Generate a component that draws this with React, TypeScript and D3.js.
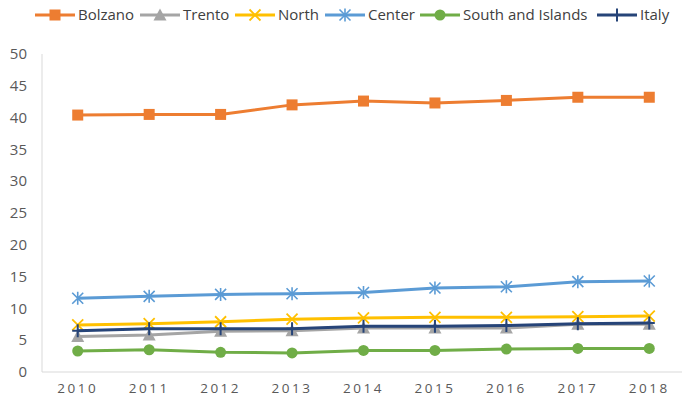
import * as d3 from "d3";

const years = ["2010", "2011", "2012", "2013", "2014", "2015", "2016", "2017", "2018"];
const yTicks = [0, 5, 10, 15, 20, 25, 30, 35, 40, 45, 50];

const bolzano = [40.4, 40.5, 40.5, 42.0, 42.6, 42.3, 42.7, 43.2, 43.2];
const trento = [5.6, 5.8, 6.4, 6.5, 6.9, 6.9, 6.9, 7.5, 7.5];
const north = [7.4, 7.6, 7.9, 8.3, 8.5, 8.6, 8.6, 8.7, 8.8];
const center = [11.6, 11.9, 12.2, 12.3, 12.5, 13.2, 13.4, 14.2, 14.3];
const south = [3.3, 3.5, 3.1, 3.0, 3.4, 3.4, 3.6, 3.7, 3.7];
const italy = [6.5, 6.8, 6.8, 6.8, 7.2, 7.2, 7.3, 7.6, 7.7];

type Marker = "square" | "triangle" | "x" | "star" | "circle" | "plus";

const series: { name: string; values: number[]; color: string; marker: Marker }[] = [
  { name: "Bolzano", values: bolzano, color: "#ED7D31", marker: "square" },
  { name: "Trento", values: trento, color: "#A5A5A5", marker: "triangle" },
  { name: "North", values: north, color: "#FFC000", marker: "x" },
  { name: "Center", values: center, color: "#5B9BD5", marker: "star" },
  { name: "South and Islands", values: south, color: "#70AD47", marker: "circle" },
  { name: "Italy", values: italy, color: "#264478", marker: "plus" },
];

const font = "'Open Sans', sans-serif";

function MarkerShape({ type, x, y, color }: { type: Marker; x: number; y: number; color: string }) {
  const s = 5.5;
  switch (type) {
    case "square":
      return <rect x={x - s} y={y - s} width={s * 2} height={s * 2} fill={color} />;
    case "triangle":
      return <path d={`M${x},${y - s - 1}L${x + s + 1},${y + s}L${x - s - 1},${y + s}Z`} fill={color} />;
    case "circle":
      return <circle cx={x} cy={y} r={5.5} fill={color} />;
    case "x":
      return (
        <path
          d={`M${x - s},${y - s}L${x + s},${y + s}M${x + s},${y - s}L${x - s},${y + s}`}
          stroke={color}
          strokeWidth={1.8}
        />
      );
    case "star":
      return (
        <path
          d={`M${x - s},${y - s}L${x + s},${y + s}M${x + s},${y - s}L${x - s},${y + s}M${x},${y - s - 1}L${x},${y + s + 1}`}
          stroke={color}
          strokeWidth={1.6}
        />
      );
    case "plus":
      return (
        <path
          d={`M${x},${y - s - 1}L${x},${y + s + 1}M${x - s},${y}L${x + s},${y}`}
          stroke={color}
          strokeWidth={2}
        />
      );
  }
}

const legendX = [35, 140, 235, 325, 420, 597];

export default function App() {
  const width = 682;
  const height = 404;
  const margin = { top: 54, right: -3, bottom: 32, left: 42 };

  const x = d3
    .scaleBand<string>()
    .domain(years)
    .range([margin.left, width - margin.right]);
  const y = d3
    .scaleLinear()
    .domain([0, 50])
    .range([height - margin.bottom, margin.top]);

  const line = d3
    .line<number>()
    .x((_, i) => (x(years[i]) ?? 0) + x.bandwidth() / 2)
    .y((d) => y(d));

  return (
    <svg
      width={width}
      height={height}
      style={{ position: "absolute", left: 0, top: 0, background: "#fff" }}
      fontFamily={font}
    >
      {/* axes */}
      <line x1={margin.left} x2={margin.left} y1={y(50)} y2={y(0)} stroke="#D9D9D9" />
      <line x1={margin.left} x2={width} y1={y(0)} y2={y(0)} stroke="#D9D9D9" />
      {yTicks.map((t) => (
        <text key={t} x={27} y={y(t)} dy="0.35em" textAnchor="end" fontSize={15} fill="#595959">
          {t}
        </text>
      ))}
      {years.map((yr) => (
        <text
          key={yr}
          x={(x(yr) ?? 0) + x.bandwidth() / 2}
          y={393}
          textAnchor="middle"
          fontSize={13.5}
          letterSpacing={2.5}
          fill="#595959"
        >
          {yr}
        </text>
      ))}

      {series.map((s) => (
        <g key={s.name}>
          <path d={line(s.values) ?? ""} fill="none" stroke={s.color} strokeWidth={3} />
          {s.values.map((v, i) => (
            <MarkerShape
              key={i}
              type={s.marker}
              x={(x(years[i]) ?? 0) + x.bandwidth() / 2}
              y={y(v)}
              color={s.color}
            />
          ))}
        </g>
      ))}

      {/* legend */}
      {series.map((s, i) => {
        const lx = legendX[i];
        return (
          <g key={s.name}>
            <line x1={lx} x2={lx + 40} y1={15} y2={15} stroke={s.color} strokeWidth={3} />
            <MarkerShape type={s.marker} x={lx + 20} y={15} color={s.color} />
            <text x={lx + 43} y={15} dy="0.35em" fontSize={15} fill="#404040">
              {s.name}
            </text>
          </g>
        );
      })}
    </svg>
  );
}
